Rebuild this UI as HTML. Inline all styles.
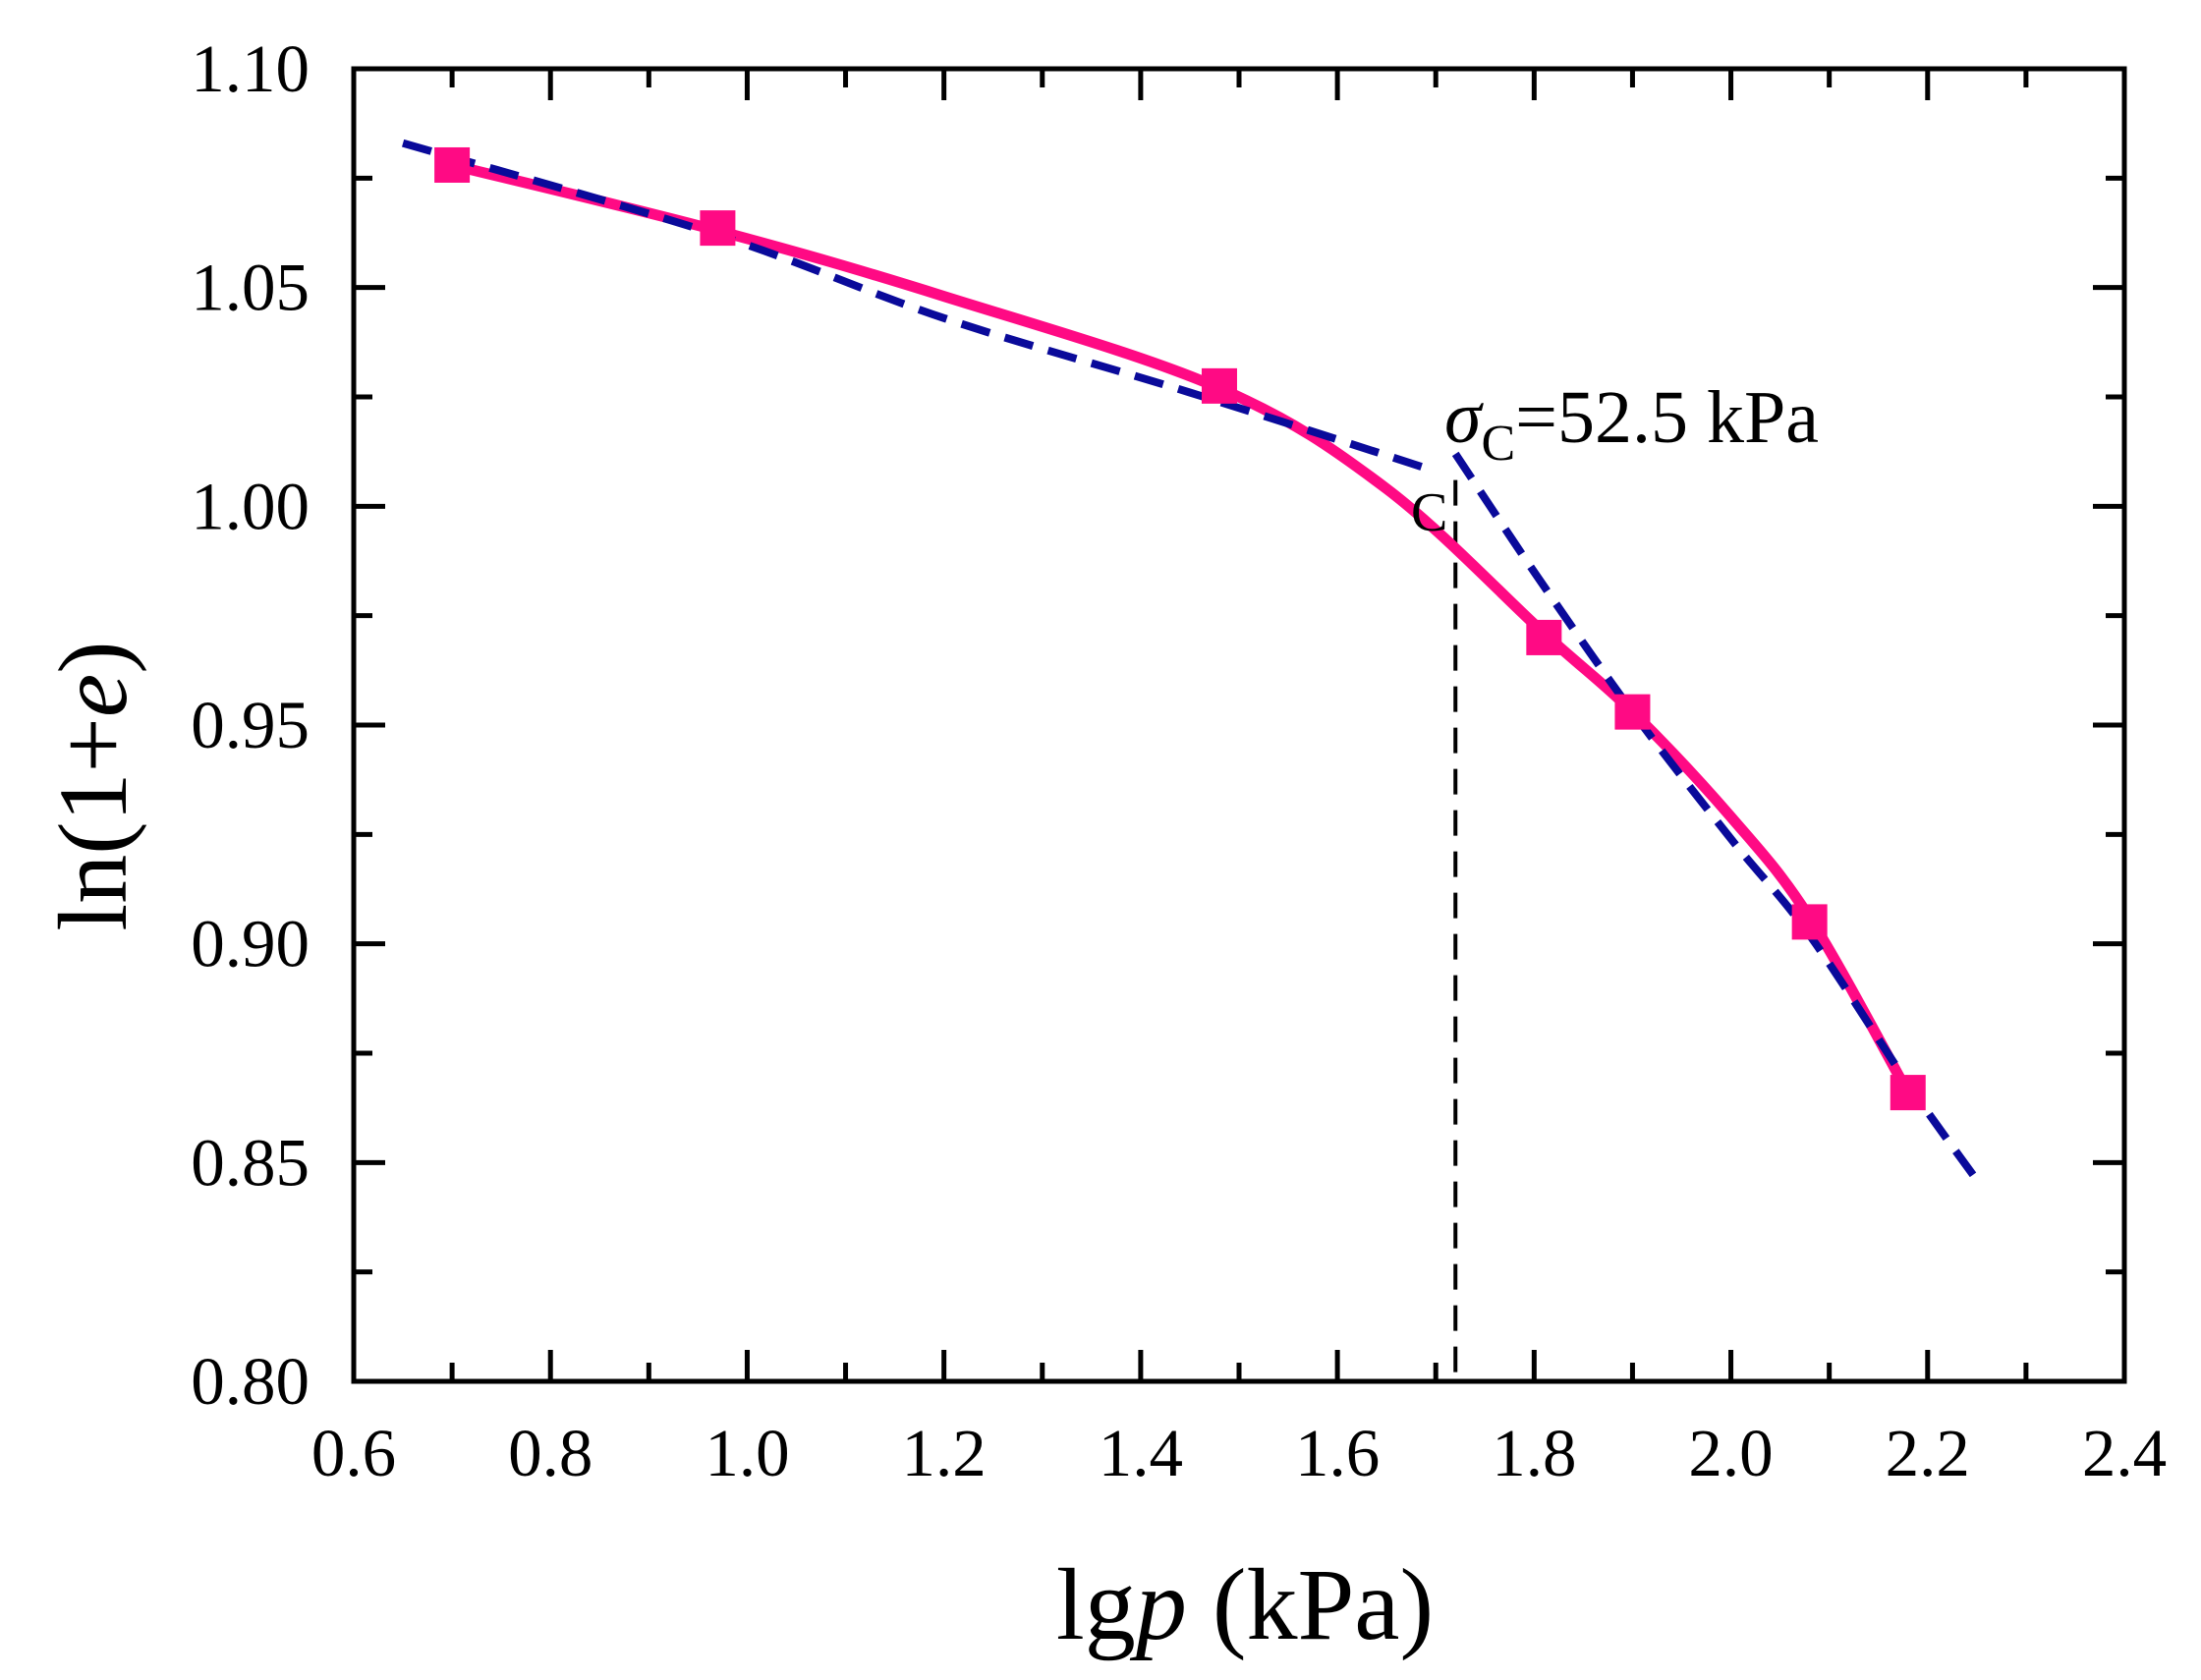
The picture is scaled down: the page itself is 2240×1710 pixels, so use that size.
<!DOCTYPE html>
<html><head><meta charset="utf-8"><style>
html,body{margin:0;padding:0;background:#fff}
svg{display:block}
text{font-family:"Liberation Serif",serif;fill:#000}
</style></head><body>
<svg id="chart" width="2240" height="1710" viewBox="0 0 2240 1710">
<g id="plot"></g>
<text x="1436" y="540" font-size="56">C</text>
<text x="1470" y="450" font-size="76"><tspan font-style="italic">σ</tspan><tspan font-size="52" dy="18">C</tspan><tspan dy="-18">=52.5 kPa</tspan></text>
<text x="1267" y="1668" font-size="104" text-anchor="middle">lg<tspan font-style="italic">p</tspan> (kPa)</text>
<text transform="translate(128,800) rotate(-90)" font-size="100" text-anchor="middle">ln(1+<tspan font-style="italic">e</tspan>)</text>
</svg>
<script>
const xTicks=[0.6,0.8,1.0,1.2,1.4,1.6,1.8,2.0,2.2,2.4];
const xTickLabels=["0.6","0.8","1.0","1.2","1.4","1.6","1.8","2.0","2.2","2.4"];
const yTicks=[0.80,0.85,0.90,0.95,1.00,1.05,1.10];
const yTickLabels=["0.80","0.85","0.90","0.95","1.00","1.05","1.10"];
const markerX=[0.70,0.97,1.48,1.81,1.90,2.08,2.18];
const markerY=[1.078,1.0636,1.0275,0.970,0.953,0.905,0.866];
const fitX=[0.70,0.97,1.20,1.48,1.65,1.81,1.90,2.00,2.08,2.18];
const fitY=[1.078,1.063,1.048,1.027,1.004,0.971,0.953,0.929,0.906,0.866];
const dash1X=[0.65,0.97,1.20,1.45,1.70];
const dash1Y=[1.083,1.062,1.043,1.026,1.008];
const dash2X=[1.72,1.80,1.90,2.00,2.08,2.18,2.25];
const dash2Y=[1.012,0.985,0.953,0.924,0.902,0.868,0.846];
const sigmaX=1.72, sigmaTopY=1.006;

const L=360,R=2162,T=70,B=1406;
const xs=v=>L+(v-0.6)/(2.4-0.6)*(R-L);
const ys=v=>B-(v-0.8)/(1.10-0.8)*(B-T);
const NS="http://www.w3.org/2000/svg";
const g=document.getElementById('plot');
function mk(tag,attrs,parent){const e=document.createElementNS(NS,tag);for(const k in attrs)e.setAttribute(k,attrs[k]);(parent||g).appendChild(e);return e;}
function smooth(X,Y){
  const P=X.map((x,i)=>[xs(x),ys(Y[i])]);
  let d='M'+P[0][0].toFixed(1)+','+P[0][1].toFixed(1);
  for(let i=0;i<P.length-1;i++){
    const p0=P[Math.max(i-1,0)],p1=P[i],p2=P[i+1],p3=P[Math.min(i+2,P.length-1)];
    const c1=[p1[0]+(p2[0]-p0[0])/6,p1[1]+(p2[1]-p0[1])/6];
    const c2=[p2[0]-(p3[0]-p1[0])/6,p2[1]-(p3[1]-p1[1])/6];
    d+=' C'+c1.map(v=>v.toFixed(1)).join(',')+' '+c2.map(v=>v.toFixed(1)).join(',')+' '+p2.map(v=>v.toFixed(1)).join(',');
  }
  return d;
}

let vl=mk('line',{x1:xs(sigmaX),x2:xs(sigmaX),y1:ys(sigmaTopY),y2:B,stroke:'#000','stroke-width':4,'stroke-dasharray':'26,16'});



let fl=mk('path',{d:smooth(fitX,fitY),fill:'none',stroke:'#FF0A84','stroke-width':11,'stroke-linejoin':'round'});


let d1=mk('path',{d:smooth(dash1X,dash1Y),fill:'none',stroke:'#0A0A9A','stroke-width':8,'stroke-dasharray':'30,16'});


let d2=mk('path',{d:smooth(dash2X,dash2Y),fill:'none',stroke:'#0A0A9A','stroke-width':8,'stroke-dasharray':'30,16'});



markerX.forEach((x,i)=>{
  const s=36;
  const r=mk('rect',{x:xs(x)-s/2,y:ys(markerY[i])-s/2,width:s,height:s,fill:'#FF0A84'});
  
  
});

let fr=mk('rect',{x:L,y:T,width:R-L,height:B-T,fill:'none',stroke:'#000','stroke-width':5});



xTicks.forEach((v,i)=>{
  const x=xs(v);
  [[B,B-32],[T,T+32]].forEach(p=>{const t=mk('line',{x1:x,x2:x,y1:p[0],y2:p[1],stroke:'#000','stroke-width':5});});
  if(i<xTicks.length-1){const xm=xs(v+0.1);
    [[B,B-19],[T,T+19]].forEach(p=>{const t=mk('line',{x1:xm,x2:xm,y1:p[0],y2:p[1],stroke:'#000','stroke-width':5});});}
  const tx=mk('text',{x:x,y:1502,'font-size':69,'text-anchor':'middle'});tx.textContent=xTickLabels[i];
  
  
});
yTicks.forEach((v,i)=>{
  const y=ys(v);
  [[L,L+32],[R,R-32]].forEach(p=>{const t=mk('line',{x1:p[0],x2:p[1],y1:y,y2:y,stroke:'#000','stroke-width':5});});
  if(i<yTicks.length-1){const ym=ys(v+0.025);
    [[L,L+19],[R,R-19]].forEach(p=>{const t=mk('line',{x1:p[0],x2:p[1],y1:ym,y2:ym,stroke:'#000','stroke-width':5});});}
  const ty=mk('text',{x:315,y:y+23,'font-size':69,'text-anchor':'end'});ty.textContent=yTickLabels[i];
  
  
});
</script>
</body></html>
